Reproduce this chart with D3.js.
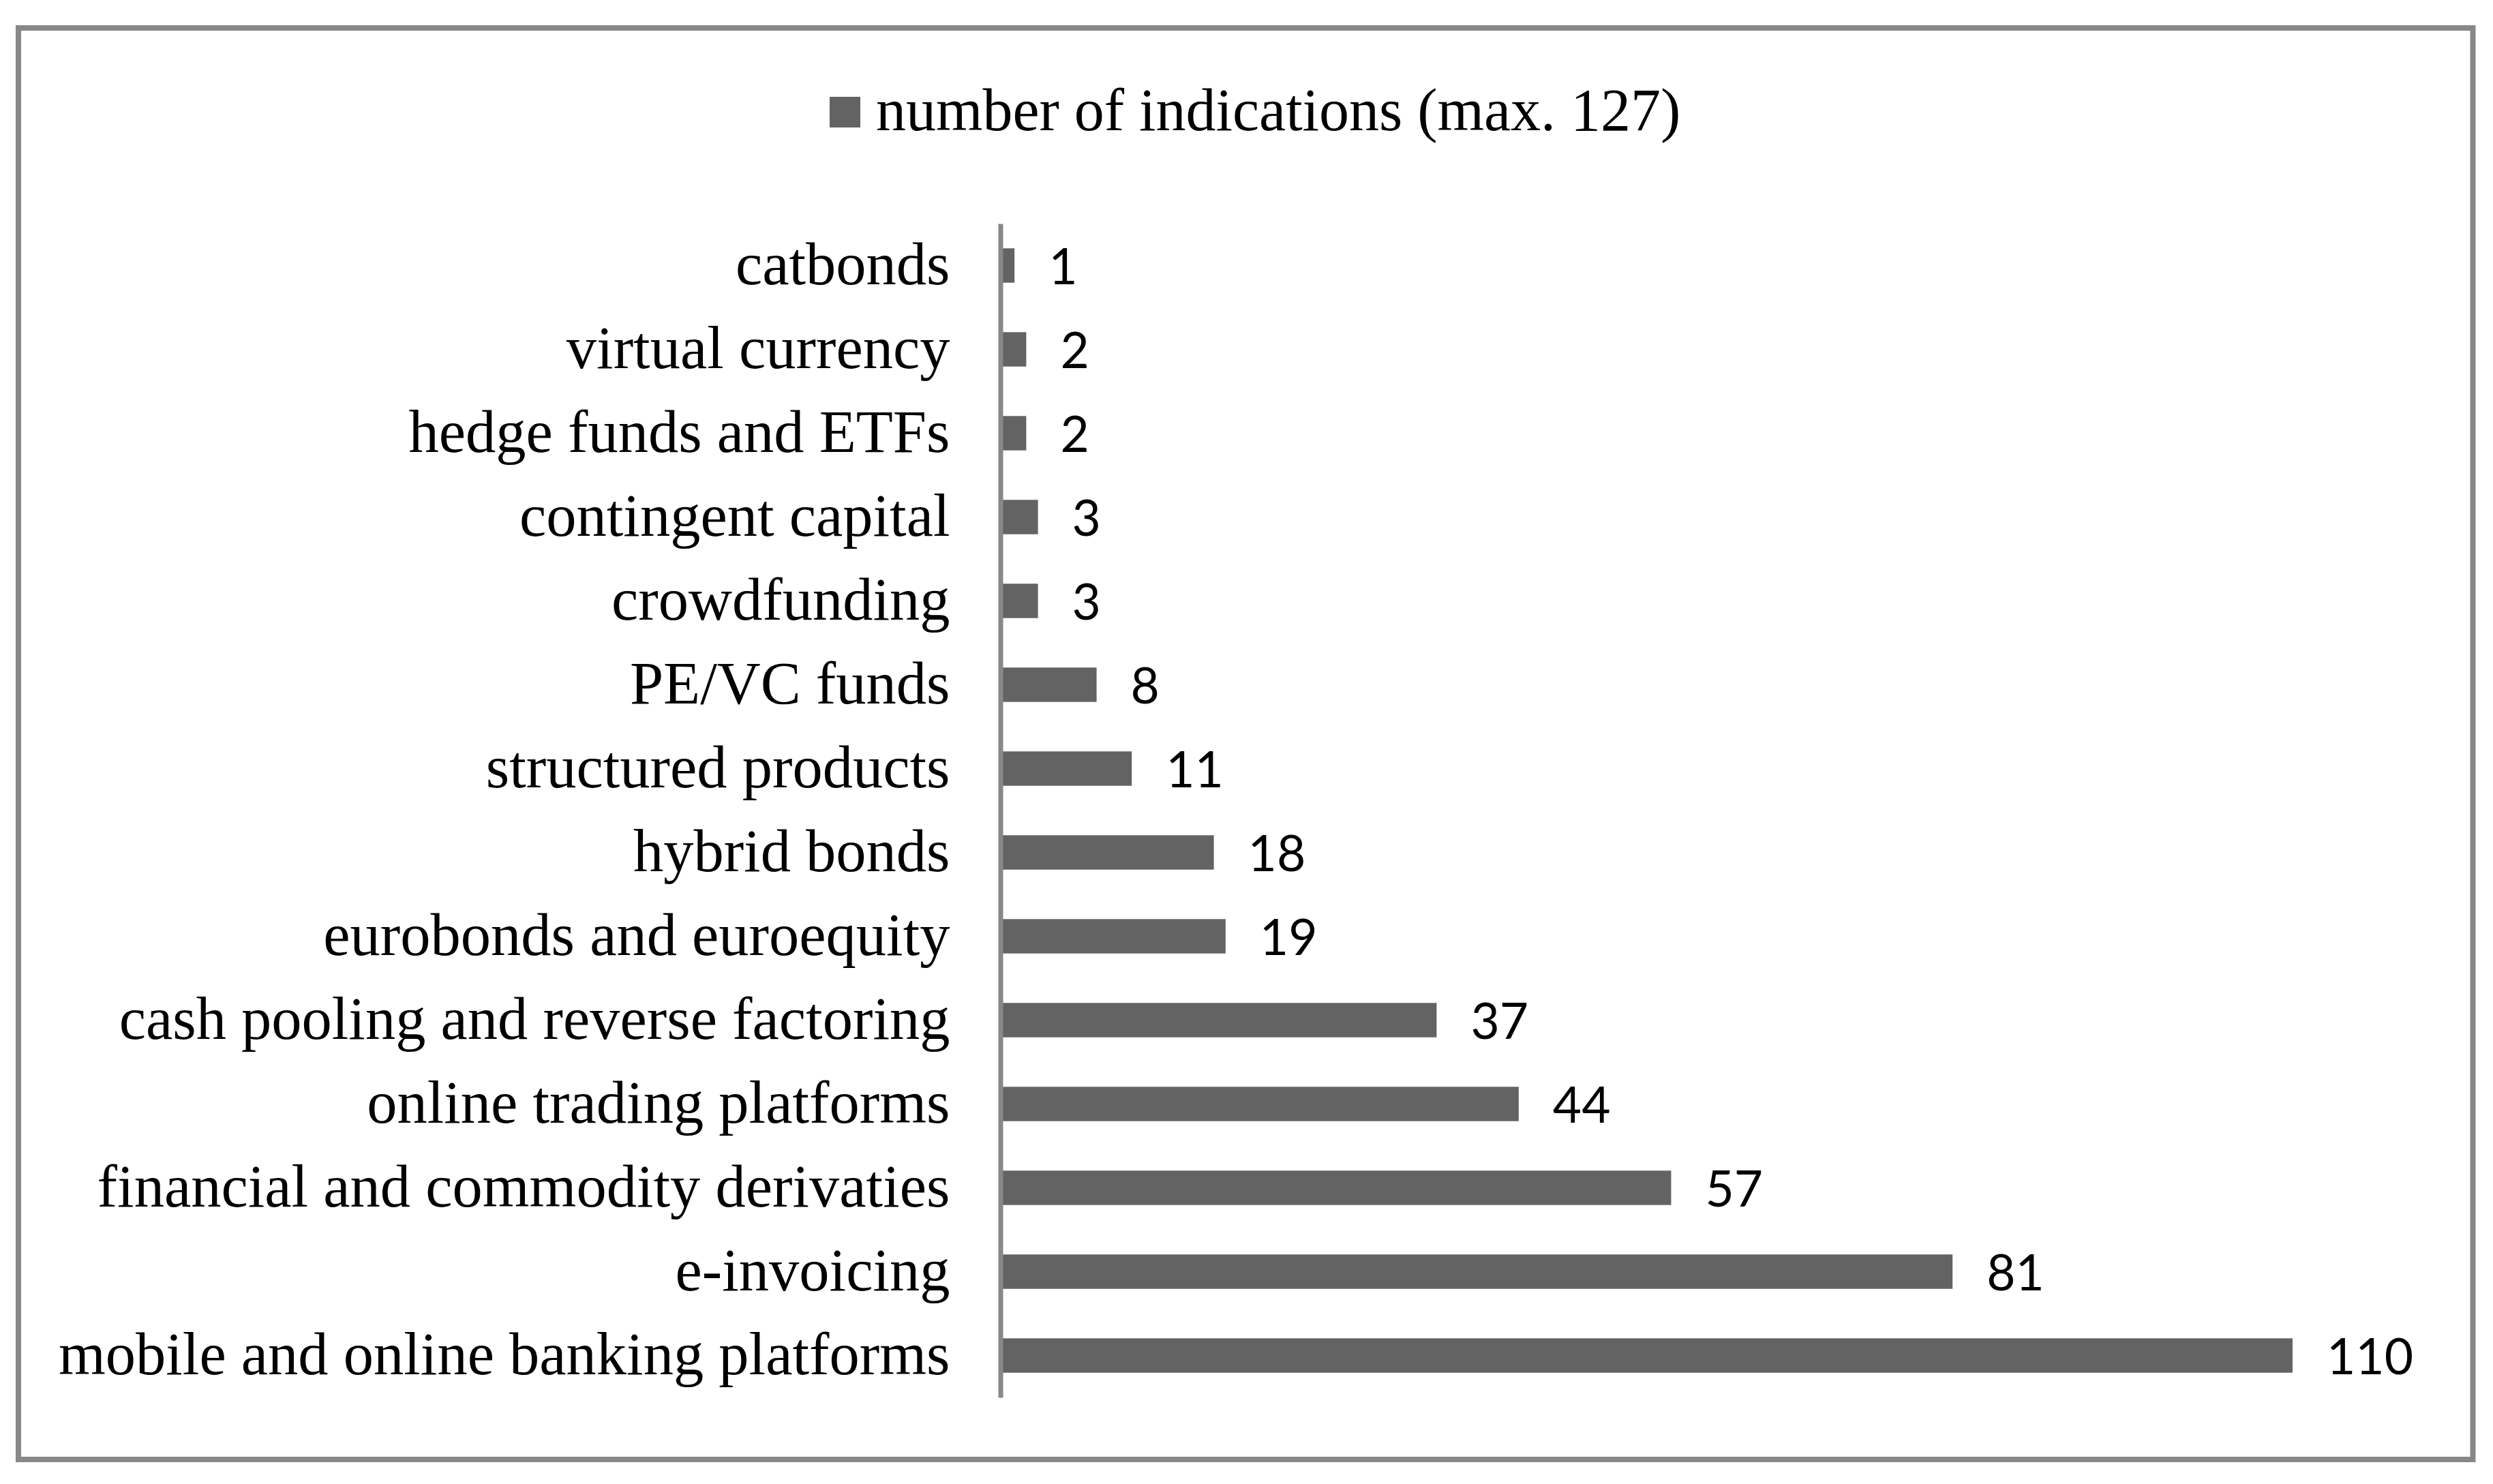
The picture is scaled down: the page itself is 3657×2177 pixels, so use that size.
<!DOCTYPE html>
<html>
<head>
<meta charset="utf-8">
<script src="https://cdn.jsdelivr.net/npm/d3@7"></script>
<style>
  html, body { margin: 0; padding: 0; background: #ffffff; }
  svg { display: block; }
</style>
</head>
<body>
<script>
// ---- data ----
const categories = [
  "catbonds",
  "virtual currency",
  "hedge funds and ETFs",
  "contingent capital",
  "crowdfunding",
  "PE/VC funds",
  "structured products",
  "hybrid bonds",
  "eurobonds and euroequity",
  "cash pooling and reverse factoring",
  "online trading platforms",
  "financial and commodity derivaties",
  "e-invoicing",
  "mobile and online banking platforms"
];
const values = [1, 2, 2, 3, 3, 8, 11, 18, 19, 37, 44, 57, 81, 110];
const seriesName = "number of indications (max. 127)";
const xDomain = [0, 120];

// ---- layout ----
const W = 3657, H = 2177;
const serif = "'Liberation Serif', 'Times New Roman', serif";
const sans = "Lato, 'Open Sans', sans-serif";
const barColor = "#636363";
const lineColor = "#888888";

const svg = d3.select("body").append("svg")
  .attr("width", W).attr("height", H);

svg.append("rect").attr("width", W).attr("height", H).attr("fill", "#ffffff");

// frame
svg.append("rect")
  .attr("x", 27).attr("y", 41)
  .attr("width", 3627.5 - 27).attr("height", 2141 - 41)
  .attr("fill", "none")
  .attr("stroke", lineColor)
  .attr("stroke-width", 8);

const y = d3.scaleBand()
  .domain(categories)
  .range([328, 2050])
  .paddingInner(0.59)
  .paddingOuter(0.295);

const x = d3.scaleLinear()
  .domain(xDomain)
  .range([1471, 3535]);

// bars
svg.append("g").selectAll("rect")
  .data(categories)
  .join("rect")
  .attr("x", x(0))
  .attr("y", d => y(d))
  .attr("width", (d, i) => x(values[i]) - x(0))
  .attr("height", y.bandwidth())
  .attr("fill", barColor);

// value labels
svg.append("g").selectAll("text")
  .data(categories)
  .join("text")
  .attr("x", (d, i) => x(values[i]) + 50)
  .attr("y", d => y(d) + y.bandwidth() / 2 + 27)
  .attr("font-family", sans)
  .attr("font-size", 73)
  .attr("fill", "#000000")
  .text((d, i) => values[i]);

// category axis
const axis = svg.append("g")
  .attr("transform", "translate(1467.5,0)")
  .call(d3.axisLeft(y).tickSize(0).tickSizeOuter(0).tickPadding(74));

axis.select(".domain")
  .attr("stroke", lineColor)
  .attr("stroke-width", 7);

axis.selectAll(".tick text")
  .attr("font-family", serif)
  .attr("font-size", 88.5)
  .attr("fill", "#000000")
  .attr("dy", 27);

// legend
const legend = svg.append("g");
legend.append("rect")
  .attr("x", 1217).attr("y", 142)
  .attr("width", 45).attr("height", 45)
  .attr("fill", barColor);
legend.append("text")
  .attr("x", 1285).attr("y", 191)
  .attr("font-family", serif)
  .attr("font-size", 88)
  .attr("fill", "#000000")
  .text(seriesName);
</script>
</body>
</html>
